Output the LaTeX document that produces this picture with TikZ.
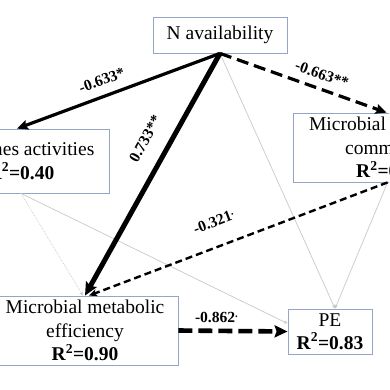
\documentclass[tikz,border=0pt]{standalone}
\usepackage{fontspec}
\setmainfont{Liberation Serif}
\usetikzlibrary{arrows.meta}
\definecolor{boxblue}{RGB}{150,165,198}
\definecolor{paleline}{RGB}{200,200,200}
\begin{document}
\begin{tikzpicture}[x=1pt, y=-1pt, font=\fontsize{19.5}{23.5}\selectfont]
	\tikzset{
		varbox/.style={draw=boxblue, line width=0.8pt, fill=white, align=center, inner sep=0pt},
		elabel/.style={font=\fontsize{15.5}{17}\selectfont\bfseries, inner sep=1pt, sloped},
		bigtip/.style={-{Stealth[length=11pt, width=10pt, inset=2pt]}},
		smalltip/.style={-{Stealth[length=4pt, width=3.5pt]}},
		weakpath/.style={draw=paleline, line width=0.7pt, smalltip}
	}
	\useasboundingbox (0,0) rectangle (389,390);
	\clip (0,0) rectangle (389,390);
	\node[varbox, minimum width=193pt, minimum height=69pt] (comm) at (389.5,147.5) {Microbial functional\\community\\\textbf{R\textsuperscript{2}=0.55}};
	\node[varbox, minimum width=134pt, minimum height=36pt] (avail) at (220,35) {N availability};
	\node[varbox, minimum width=176pt, minimum height=64pt] (enz) at (21,161) {Enzymes activities\\\textbf{R\textsuperscript{2}=0.40}};
	\node[varbox, minimum width=186pt, minimum height=69pt] (mme) at (85,330.5) {Microbial metabolic\\efficiency\\\textbf{R\textsuperscript{2}=0.90}};
	\node[varbox, minimum width=84pt, minimum height=45pt] (pe) at (330,331.5) {PE\\\textbf{R\textsuperscript{2}=0.83}};
	% weak paths
	\draw[weakpath] (avail.south) -- ([xshift=5pt]pe.north);
	\draw[weakpath] ([xshift=95pt]comm.south west) -- ([xshift=5pt]pe.north);
	\draw[weakpath] (enz.south) -- ([yshift=8pt]pe.west);
	\draw[weakpath, densely dotted] (enz.south) -- ([xshift=-2pt]mme.north);
	% significant paths
	\draw[line width=3.2pt, bigtip] (avail.south) -- ([xshift=-4pt]enz.north)
		node[elabel, pos=.555, above=8pt] {-0.633*};
	\draw[line width=3.2pt, bigtip, dash pattern=on 12pt off 6pt] (avail.south) -- ([xshift=94pt]comm.north west)
		node[elabel, pos=.583, above=6.5pt] {-0.663**};
	\draw[line width=2.4pt, -{Stealth[length=8pt, width=7pt, inset=2pt]}, dash pattern=on 7pt off 4pt] ([xshift=95pt]comm.south west) -- ([xshift=4pt]mme.north)
		node[elabel, pos=.552, above=17pt] {-0.321\textsuperscript{.}};
	\draw[line width=5pt, -{Stealth[length=13pt, width=12pt, inset=2pt]}] (avail.south) -- (mme.north)
		node[elabel, pos=.40, above=15pt] {0.733**};
	\draw[line width=4.6pt, -{Stealth[length=13pt, width=12pt, inset=2pt]}, dash pattern=on 14pt off 6pt] (mme.east) -- (pe.west)
		node[elabel, pos=.35, above=5pt] {-0.862\textsuperscript{.}};
\end{tikzpicture}
\end{document}
